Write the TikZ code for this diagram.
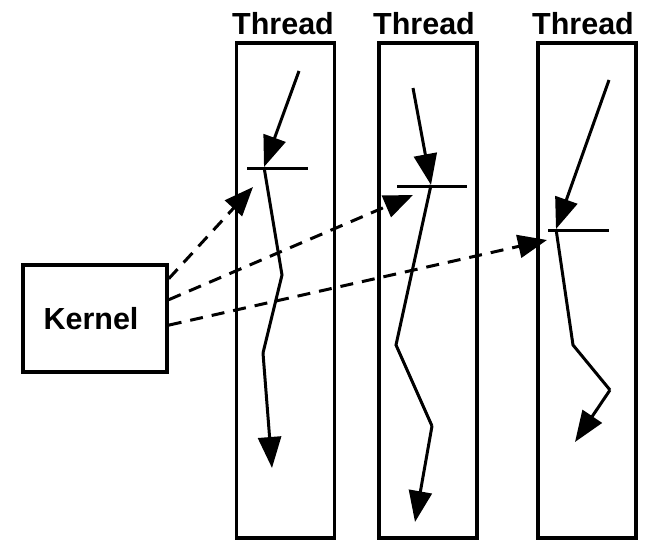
\documentclass[tikz,border=0pt]{standalone}
\usepackage{fontspec}
\setmainfont{Liberation Sans}
\usetikzlibrary{arrows.meta,calc}
\begin{document}
\begin{tikzpicture}[x=1pt,y=-1pt,
  lbl/.style={font=\fontsize{30.5}{33}\selectfont\bfseries,anchor=base},
  threadbox/.style={draw,line width=3.5pt,minimum width=98pt,minimum height=495pt,inner sep=0pt},
  kernelbox/.style={draw,line width=3.5pt,minimum width=144pt,minimum height=107pt,inner sep=0pt,
    font=\fontsize{30.5}{33}\selectfont\bfseries},
  flow/.style={line width=3pt,-{Triangle[length=31pt,width=23pt]}},
  path/.style={line width=3pt,line join=miter},
  sync/.style={line width=3pt},
  call/.style={line width=3pt,dash pattern=on 13pt off 9pt,-{Triangle[length=29pt,width=23pt]}}]
\useasboundingbox (0,0) rectangle (646,541);

% kernel and the three thread columns
\node[kernelbox] (kernel) at (95,318.5) {\hspace*{-8pt}Kernel};
\node[threadbox] (th1) at (285.5,290.5) {};
\node[threadbox] (th2) at (428,290.5) {};
\node[threadbox] (th3) at (587,290.5) {};
\node[lbl] (l1) at (283,34) {Thread};
\node[lbl] (l2) at (424,34) {Thread};
\node[lbl] (l3) at (583,34) {Thread};

% thread 1
\coordinate (a1) at (299,71);
\coordinate (b1) at (264,167);
\coordinate (c1) at (282,275);
\coordinate (d1) at (263,353);
\coordinate (e1) at (272,468);
\coordinate (s1l) at (247,168);
\coordinate (s1r) at (308,168);
\draw[flow] (a1) -- (b1);
\draw[sync] (s1l) -- (s1r);
\draw[path] (b1) -- (c1) -- (d1);
\draw[flow] (d1) -- (e1);

% thread 2
\coordinate (a2) at (413,88);
\coordinate (b2) at (431,185);
\coordinate (c2) at (396,345);
\coordinate (d2) at (432,426);
\coordinate (e2) at (415,522);
\coordinate (s2l) at (397,186);
\coordinate (s2r) at (467,186);
\draw[flow] (a2) -- (b2);
\draw[sync] (s2l) -- (s2r);
\draw[path] (b2) -- (c2) -- (d2);
\draw[flow] (d2) -- (e2);

% thread 3
\coordinate (a3) at (609,80);
\coordinate (b3) at (556,229);
\coordinate (c3) at (573,345);
\coordinate (d3) at (610,390);
\coordinate (e3) at (575,442);
\coordinate (s3l) at (548,230);
\coordinate (s3r) at (609,230);
\draw[flow] (a3) -- (b3);
\draw[sync] (s3l) -- (s3r);
\draw[path] (b3) -- (c3) -- (d3);
\draw[flow] (d3) -- (e3);

% kernel upcalls into the threads
\coordinate (t1) at (253,187);
\coordinate (t2) at (413,195);
\coordinate (t3) at (547,240);
\draw[call] ($(kernel.north east)!0.14!(kernel.south east)$) -- (t1);
\draw[call] ($(kernel.north east)!0.33!(kernel.south east)$) -- (t2);
\draw[call] ($(kernel.north east)!0.56!(kernel.south east)$) -- (t3);
\end{tikzpicture}
\end{document}
